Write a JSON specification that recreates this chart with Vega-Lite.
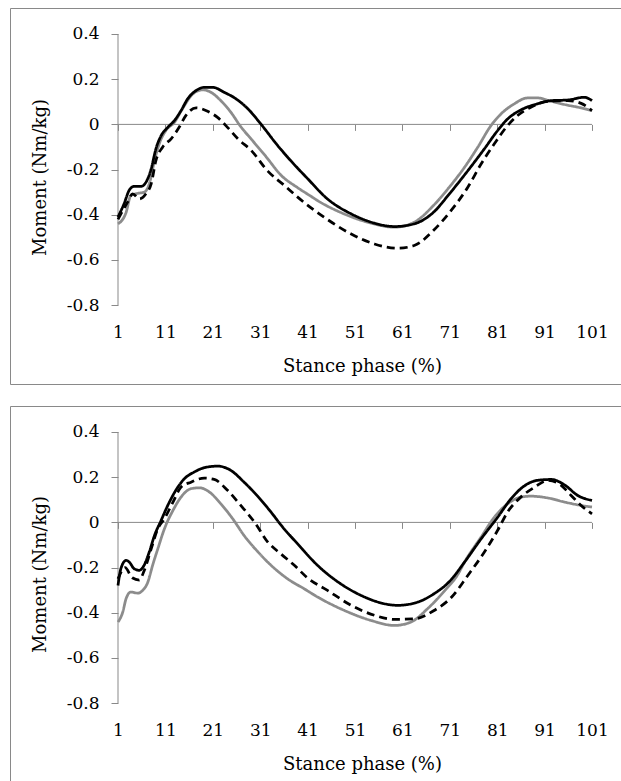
{
  "$schema": "https://vega.github.io/schema/vega-lite/v6.json",
  "padding": {"left": 9, "top": 7, "right": 0, "bottom": 0},
  "background": "white",
  "config": {
    "view": {"stroke": "#898989", "strokeWidth": 1},
    "font": "DejaVu Serif",
    "axis": {"grid": false, "labelColor": "#000000", "titleColor": "#000000", "labelFontSize": 17, "titleFontSize": 18, "titleFontWeight": "normal", "tickColor": "#898989", "domainColor": "#898989"}
  },
  "datasets": {
    "axes": [
      {"x": 1, "x2": 101, "y": 0, "y2": 0},
      {"x": 1, "x2": 1, "y": -0.8, "y2": 0.4}
    ],
    "lines": [
      {"panel": 1, "series": "gray", "x": 1, "y": -0.44},
      {"panel": 1, "series": "gray", "x": 2.7, "y": -0.39},
      {"panel": 1, "series": "gray", "x": 3.7, "y": -0.315},
      {"panel": 1, "series": "gray", "x": 5.2, "y": -0.305},
      {"panel": 1, "series": "gray", "x": 6.5, "y": -0.3},
      {"panel": 1, "series": "gray", "x": 7.6, "y": -0.263},
      {"panel": 1, "series": "gray", "x": 8.7, "y": -0.16},
      {"panel": 1, "series": "gray", "x": 9.7, "y": -0.086},
      {"panel": 1, "series": "gray", "x": 11.1, "y": -0.027},
      {"panel": 1, "series": "gray", "x": 12.9, "y": 0.009},
      {"panel": 1, "series": "gray", "x": 14.6, "y": 0.069},
      {"panel": 1, "series": "gray", "x": 16.8, "y": 0.135},
      {"panel": 1, "series": "gray", "x": 18.9, "y": 0.153},
      {"panel": 1, "series": "gray", "x": 20.6, "y": 0.142},
      {"panel": 1, "series": "gray", "x": 22.7, "y": 0.105},
      {"panel": 1, "series": "gray", "x": 24.8, "y": 0.054},
      {"panel": 1, "series": "gray", "x": 26.9, "y": -0.01},
      {"panel": 1, "series": "gray", "x": 29.1, "y": -0.065},
      {"panel": 1, "series": "gray", "x": 32.2, "y": -0.142},
      {"panel": 1, "series": "gray", "x": 35.4, "y": -0.225},
      {"panel": 1, "series": "gray", "x": 38.9, "y": -0.28},
      {"panel": 1, "series": "gray", "x": 41.7, "y": -0.318},
      {"panel": 1, "series": "gray", "x": 43.1, "y": -0.337},
      {"panel": 1, "series": "gray", "x": 48.7, "y": -0.396},
      {"panel": 1, "series": "gray", "x": 54.4, "y": -0.437},
      {"panel": 1, "series": "gray", "x": 59.3, "y": -0.455},
      {"panel": 1, "series": "gray", "x": 63.5, "y": -0.433},
      {"panel": 1, "series": "gray", "x": 67.5, "y": -0.36},
      {"panel": 1, "series": "gray", "x": 71, "y": -0.275},
      {"panel": 1, "series": "gray", "x": 74.1, "y": -0.19},
      {"panel": 1, "series": "gray", "x": 76.9, "y": -0.101},
      {"panel": 1, "series": "gray", "x": 79.7, "y": -0.005},
      {"panel": 1, "series": "gray", "x": 81.8, "y": 0.046},
      {"panel": 1, "series": "gray", "x": 84.6, "y": 0.091},
      {"panel": 1, "series": "gray", "x": 87.4, "y": 0.117},
      {"panel": 1, "series": "gray", "x": 89.5, "y": 0.117},
      {"panel": 1, "series": "gray", "x": 92.4, "y": 0.102},
      {"panel": 1, "series": "gray", "x": 95.2, "y": 0.088},
      {"panel": 1, "series": "gray", "x": 98.7, "y": 0.073},
      {"panel": 1, "series": "gray", "x": 101, "y": 0.061},

      {"panel": 1, "series": "dashed", "x": 1, "y": -0.42},
      {"panel": 1, "series": "dashed", "x": 3, "y": -0.345},
      {"panel": 1, "series": "dashed", "x": 4.1, "y": -0.307},
      {"panel": 1, "series": "dashed", "x": 5.5, "y": -0.33},
      {"panel": 1, "series": "dashed", "x": 6.9, "y": -0.307},
      {"panel": 1, "series": "dashed", "x": 8, "y": -0.263},
      {"panel": 1, "series": "dashed", "x": 9, "y": -0.16},
      {"panel": 1, "series": "dashed", "x": 10.4, "y": -0.101},
      {"panel": 1, "series": "dashed", "x": 12.2, "y": -0.064},
      {"panel": 1, "series": "dashed", "x": 13.9, "y": -0.013},
      {"panel": 1, "series": "dashed", "x": 15.3, "y": 0.039},
      {"panel": 1, "series": "dashed", "x": 17.5, "y": 0.073},
      {"panel": 1, "series": "dashed", "x": 19.9, "y": 0.058},
      {"panel": 1, "series": "dashed", "x": 22, "y": 0.031},
      {"panel": 1, "series": "dashed", "x": 24.1, "y": -0.013},
      {"panel": 1, "series": "dashed", "x": 26.3, "y": -0.064},
      {"panel": 1, "series": "dashed", "x": 29.1, "y": -0.115},
      {"panel": 1, "series": "dashed", "x": 32.6, "y": -0.207},
      {"panel": 1, "series": "dashed", "x": 36.1, "y": -0.27},
      {"panel": 1, "series": "dashed", "x": 38.9, "y": -0.322},
      {"panel": 1, "series": "dashed", "x": 44.5, "y": -0.411},
      {"panel": 1, "series": "dashed", "x": 50.2, "y": -0.485},
      {"panel": 1, "series": "dashed", "x": 55.1, "y": -0.529},
      {"panel": 1, "series": "dashed", "x": 60, "y": -0.548},
      {"panel": 1, "series": "dashed", "x": 63.5, "y": -0.536},
      {"panel": 1, "series": "dashed", "x": 67.7, "y": -0.466},
      {"panel": 1, "series": "dashed", "x": 71.5, "y": -0.375},
      {"panel": 1, "series": "dashed", "x": 74.8, "y": -0.278},
      {"panel": 1, "series": "dashed", "x": 77.6, "y": -0.175},
      {"panel": 1, "series": "dashed", "x": 80.4, "y": -0.086},
      {"panel": 1, "series": "dashed", "x": 82.9, "y": -0.013},
      {"panel": 1, "series": "dashed", "x": 85.3, "y": 0.039},
      {"panel": 1, "series": "dashed", "x": 88.1, "y": 0.076},
      {"panel": 1, "series": "dashed", "x": 91.7, "y": 0.102},
      {"panel": 1, "series": "dashed", "x": 95.9, "y": 0.105},
      {"panel": 1, "series": "dashed", "x": 98.7, "y": 0.093},
      {"panel": 1, "series": "dashed", "x": 101, "y": 0.061},

      {"panel": 1, "series": "black", "x": 1, "y": -0.41},
      {"panel": 1, "series": "black", "x": 2.3, "y": -0.35},
      {"panel": 1, "series": "black", "x": 3.4, "y": -0.29},
      {"panel": 1, "series": "black", "x": 4.4, "y": -0.274},
      {"panel": 1, "series": "black", "x": 5.9, "y": -0.274},
      {"panel": 1, "series": "black", "x": 6.9, "y": -0.256},
      {"panel": 1, "series": "black", "x": 8, "y": -0.197},
      {"panel": 1, "series": "black", "x": 9, "y": -0.108},
      {"panel": 1, "series": "black", "x": 10.1, "y": -0.05},
      {"panel": 1, "series": "black", "x": 11.5, "y": -0.013},
      {"panel": 1, "series": "black", "x": 12.9, "y": 0.017},
      {"panel": 1, "series": "black", "x": 14.3, "y": 0.061},
      {"panel": 1, "series": "black", "x": 15.7, "y": 0.113},
      {"panel": 1, "series": "black", "x": 17.5, "y": 0.15},
      {"panel": 1, "series": "black", "x": 19.2, "y": 0.164},
      {"panel": 1, "series": "black", "x": 21, "y": 0.164},
      {"panel": 1, "series": "black", "x": 23.4, "y": 0.142},
      {"panel": 1, "series": "black", "x": 25.9, "y": 0.113},
      {"panel": 1, "series": "black", "x": 28.4, "y": 0.069},
      {"panel": 1, "series": "black", "x": 31.2, "y": 0},
      {"panel": 1, "series": "black", "x": 34.7, "y": -0.094},
      {"panel": 1, "series": "black", "x": 38.2, "y": -0.178},
      {"panel": 1, "series": "black", "x": 41, "y": -0.24},
      {"panel": 1, "series": "black", "x": 45.2, "y": -0.33},
      {"panel": 1, "series": "black", "x": 50.2, "y": -0.396},
      {"panel": 1, "series": "black", "x": 55.1, "y": -0.437},
      {"panel": 1, "series": "black", "x": 59.3, "y": -0.452},
      {"panel": 1, "series": "black", "x": 63.5, "y": -0.44},
      {"panel": 1, "series": "black", "x": 67.5, "y": -0.39},
      {"panel": 1, "series": "black", "x": 71, "y": -0.305},
      {"panel": 1, "series": "black", "x": 75.5, "y": -0.186},
      {"panel": 1, "series": "black", "x": 78.3, "y": -0.108},
      {"panel": 1, "series": "black", "x": 81.1, "y": -0.027},
      {"panel": 1, "series": "black", "x": 83.2, "y": 0.024},
      {"panel": 1, "series": "black", "x": 86, "y": 0.064},
      {"panel": 1, "series": "black", "x": 89.5, "y": 0.091},
      {"panel": 1, "series": "black", "x": 92.4, "y": 0.105},
      {"panel": 1, "series": "black", "x": 95.9, "y": 0.108},
      {"panel": 1, "series": "black", "x": 99.4, "y": 0.12},
      {"panel": 1, "series": "black", "x": 101, "y": 0.105},

      {"panel": 2, "series": "gray", "x": 1, "y": -0.441},
      {"panel": 2, "series": "gray", "x": 2, "y": -0.397},
      {"panel": 2, "series": "gray", "x": 2.7, "y": -0.338},
      {"panel": 2, "series": "gray", "x": 3.7, "y": -0.308},
      {"panel": 2, "series": "gray", "x": 5.2, "y": -0.313},
      {"panel": 2, "series": "gray", "x": 6.2, "y": -0.301},
      {"panel": 2, "series": "gray", "x": 7.3, "y": -0.264},
      {"panel": 2, "series": "gray", "x": 8.3, "y": -0.19},
      {"panel": 2, "series": "gray", "x": 9.4, "y": -0.117},
      {"panel": 2, "series": "gray", "x": 10.8, "y": -0.028},
      {"panel": 2, "series": "gray", "x": 12.6, "y": 0.053},
      {"panel": 2, "series": "gray", "x": 14.3, "y": 0.112},
      {"panel": 2, "series": "gray", "x": 16.4, "y": 0.149},
      {"panel": 2, "series": "gray", "x": 18.2, "y": 0.153},
      {"panel": 2, "series": "gray", "x": 20.3, "y": 0.134},
      {"panel": 2, "series": "gray", "x": 22.7, "y": 0.082},
      {"panel": 2, "series": "gray", "x": 25.2, "y": 0.016},
      {"panel": 2, "series": "gray", "x": 27.6, "y": -0.058},
      {"panel": 2, "series": "gray", "x": 30.5, "y": -0.13},
      {"panel": 2, "series": "gray", "x": 33.3, "y": -0.19},
      {"panel": 2, "series": "gray", "x": 36.8, "y": -0.25},
      {"panel": 2, "series": "gray", "x": 40.3, "y": -0.294},
      {"panel": 2, "series": "gray", "x": 43.1, "y": -0.33},
      {"panel": 2, "series": "gray", "x": 48.7, "y": -0.389},
      {"panel": 2, "series": "gray", "x": 54.4, "y": -0.434},
      {"panel": 2, "series": "gray", "x": 59.3, "y": -0.456},
      {"panel": 2, "series": "gray", "x": 62.8, "y": -0.441},
      {"panel": 2, "series": "gray", "x": 66.3, "y": -0.382},
      {"panel": 2, "series": "gray", "x": 69.8, "y": -0.305},
      {"panel": 2, "series": "gray", "x": 72.7, "y": -0.23},
      {"panel": 2, "series": "gray", "x": 74.1, "y": -0.176},
      {"panel": 2, "series": "gray", "x": 77.6, "y": -0.065},
      {"panel": 2, "series": "gray", "x": 80.4, "y": 0.023},
      {"panel": 2, "series": "gray", "x": 83.2, "y": 0.082},
      {"panel": 2, "series": "gray", "x": 86, "y": 0.112},
      {"panel": 2, "series": "gray", "x": 88.1, "y": 0.116},
      {"panel": 2, "series": "gray", "x": 91.7, "y": 0.108},
      {"panel": 2, "series": "gray", "x": 95.2, "y": 0.09},
      {"panel": 2, "series": "gray", "x": 98.7, "y": 0.075},
      {"panel": 2, "series": "gray", "x": 101, "y": 0.068},

      {"panel": 2, "series": "dashed", "x": 1, "y": -0.25},
      {"panel": 2, "series": "dashed", "x": 2.5, "y": -0.2},
      {"panel": 2, "series": "dashed", "x": 4, "y": -0.245},
      {"panel": 2, "series": "dashed", "x": 5.5, "y": -0.255},
      {"panel": 2, "series": "dashed", "x": 6.5, "y": -0.215},
      {"panel": 2, "series": "dashed", "x": 8, "y": -0.117},
      {"panel": 2, "series": "dashed", "x": 9.4, "y": -0.028},
      {"panel": 2, "series": "dashed", "x": 10.8, "y": 0.016},
      {"panel": 2, "series": "dashed", "x": 12.6, "y": 0.09},
      {"panel": 2, "series": "dashed", "x": 14.3, "y": 0.156},
      {"panel": 2, "series": "dashed", "x": 16.4, "y": 0.178},
      {"panel": 2, "series": "dashed", "x": 19.2, "y": 0.196},
      {"panel": 2, "series": "dashed", "x": 21.3, "y": 0.19},
      {"panel": 2, "series": "dashed", "x": 24.1, "y": 0.142},
      {"panel": 2, "series": "dashed", "x": 26.9, "y": 0.075},
      {"panel": 2, "series": "dashed", "x": 29.8, "y": 0.001},
      {"panel": 2, "series": "dashed", "x": 32.6, "y": -0.087},
      {"panel": 2, "series": "dashed", "x": 35.4, "y": -0.14},
      {"panel": 2, "series": "dashed", "x": 38.2, "y": -0.19},
      {"panel": 2, "series": "dashed", "x": 41, "y": -0.246},
      {"panel": 2, "series": "dashed", "x": 45.2, "y": -0.301},
      {"panel": 2, "series": "dashed", "x": 50.2, "y": -0.367},
      {"panel": 2, "series": "dashed", "x": 55.1, "y": -0.411},
      {"panel": 2, "series": "dashed", "x": 59.3, "y": -0.429},
      {"panel": 2, "series": "dashed", "x": 63.5, "y": -0.427},
      {"panel": 2, "series": "dashed", "x": 67.5, "y": -0.392},
      {"panel": 2, "series": "dashed", "x": 71.5, "y": -0.328},
      {"panel": 2, "series": "dashed", "x": 74.8, "y": -0.235},
      {"panel": 2, "series": "dashed", "x": 78.3, "y": -0.131},
      {"panel": 2, "series": "dashed", "x": 81.1, "y": -0.035},
      {"panel": 2, "series": "dashed", "x": 83.2, "y": 0.046},
      {"panel": 2, "series": "dashed", "x": 86, "y": 0.112},
      {"panel": 2, "series": "dashed", "x": 88.9, "y": 0.156},
      {"panel": 2, "series": "dashed", "x": 91.7, "y": 0.186},
      {"panel": 2, "series": "dashed", "x": 94.5, "y": 0.164},
      {"panel": 2, "series": "dashed", "x": 96.6, "y": 0.119},
      {"panel": 2, "series": "dashed", "x": 98.7, "y": 0.075},
      {"panel": 2, "series": "dashed", "x": 101, "y": 0.038},

      {"panel": 2, "series": "black", "x": 1, "y": -0.279},
      {"panel": 2, "series": "black", "x": 1.6, "y": -0.205},
      {"panel": 2, "series": "black", "x": 2.7, "y": -0.168},
      {"panel": 2, "series": "black", "x": 3.4, "y": -0.176},
      {"panel": 2, "series": "black", "x": 4.4, "y": -0.205},
      {"panel": 2, "series": "black", "x": 5.5, "y": -0.212},
      {"panel": 2, "series": "black", "x": 6.5, "y": -0.19},
      {"panel": 2, "series": "black", "x": 7.6, "y": -0.131},
      {"panel": 2, "series": "black", "x": 8.7, "y": -0.058},
      {"panel": 2, "series": "black", "x": 10.1, "y": 0.009},
      {"panel": 2, "series": "black", "x": 11.5, "y": 0.075},
      {"panel": 2, "series": "black", "x": 13.2, "y": 0.142},
      {"panel": 2, "series": "black", "x": 15, "y": 0.193},
      {"panel": 2, "series": "black", "x": 17.1, "y": 0.223},
      {"panel": 2, "series": "black", "x": 19.2, "y": 0.242},
      {"panel": 2, "series": "black", "x": 22, "y": 0.249},
      {"panel": 2, "series": "black", "x": 24.8, "y": 0.23},
      {"panel": 2, "series": "black", "x": 27.6, "y": 0.178},
      {"panel": 2, "series": "black", "x": 30.5, "y": 0.115},
      {"panel": 2, "series": "black", "x": 33.3, "y": 0.045},
      {"panel": 2, "series": "black", "x": 35.7, "y": -0.02},
      {"panel": 2, "series": "black", "x": 38.9, "y": -0.095},
      {"panel": 2, "series": "black", "x": 43.1, "y": -0.19},
      {"panel": 2, "series": "black", "x": 48, "y": -0.272},
      {"panel": 2, "series": "black", "x": 53, "y": -0.33},
      {"panel": 2, "series": "black", "x": 57.2, "y": -0.36},
      {"panel": 2, "series": "black", "x": 60, "y": -0.367},
      {"panel": 2, "series": "black", "x": 64.2, "y": -0.353},
      {"panel": 2, "series": "black", "x": 67.5, "y": -0.318},
      {"panel": 2, "series": "black", "x": 71, "y": -0.26},
      {"panel": 2, "series": "black", "x": 74.1, "y": -0.176},
      {"panel": 2, "series": "black", "x": 77.6, "y": -0.073},
      {"panel": 2, "series": "black", "x": 81.1, "y": 0.023},
      {"panel": 2, "series": "black", "x": 83.9, "y": 0.104},
      {"panel": 2, "series": "black", "x": 86.7, "y": 0.161},
      {"panel": 2, "series": "black", "x": 89.5, "y": 0.186},
      {"panel": 2, "series": "black", "x": 92.4, "y": 0.19},
      {"panel": 2, "series": "black", "x": 95.2, "y": 0.166},
      {"panel": 2, "series": "black", "x": 98, "y": 0.119},
      {"panel": 2, "series": "black", "x": 101, "y": 0.097}
    ]
  },
  "spacing": 22,
  "bounds": "flush",
  "vconcat": [
    {
      "width": 612,
      "height": 376,
      "resolve": {"axis": {"x": "independent", "y": "independent"}},
      "layer": [
        {
          "data": {"name": "axes"},
          "mark": {"type": "rule", "color": "#898989", "strokeWidth": 1},
          "encoding": {
            "x": {"field": "x", "type": "quantitative", "scale": {"domain": [-21.785, 107.33], "nice": false, "zero": false},
                  "axis": {"orient": "bottom", "offset": -259.6, "values": [1, 11, 21, 31, 41, 51, 61, 71, 81, 91, 101], "domain": false, "labels": false, "ticks": true, "tickSize": 6, "title": null}},
            "x2": {"field": "x2"},
            "y": {"field": "y", "type": "quantitative", "scale": {"domain": [-1.1487, 0.515], "nice": false, "zero": false}, "axis": null},
            "y2": {"field": "y2"}
          }
        },
        {
          "data": {"name": "lines"},
          "transform": [{"filter": "datum.panel == 1"}],
          "mark": {"type": "line", "interpolate": "monotone", "strokeWidth": 2.75},
          "encoding": {
            "x": {"field": "x", "type": "quantitative", "scale": {"domain": [-21.785, 107.33], "nice": false, "zero": false},
                  "axis": {"orient": "bottom", "offset": -59.5, "values": [1, 11, 21, 31, 41, 51, 61, 71, 81, 91, 101], "domain": false, "ticks": false, "tickSize": 0, "labelPadding": 0, "labelDx": 3, "labelBaseline": "top", "title": "Stance phase (%)", "titleX": 352, "titleY": 41.5, "titleBaseline": "middle", "titleAnchor": "middle"}},
            "y": {"field": "y", "type": "quantitative", "scale": {"domain": [-1.1487, 0.515], "nice": false, "zero": false},
                  "axis": {"orient": "left", "offset": -108, "values": [-0.8, -0.6, -0.4, -0.2, 0, 0.2, 0.4], "domain": false, "ticks": true, "tickSize": 7, "labelPadding": 12, "labelExpr": "datum.value == 0 ? '0' : replace(format(datum.value, '.1f'), '\u2212', '-')", "title": "Moment (Nm/kg)", "titleX": -78, "titleY": 169, "titleBaseline": "middle", "titleAngle": -90, "titleAnchor": "middle"}},
            "color": {"field": "series", "type": "nominal", "scale": {"domain": ["gray", "dashed", "black"], "range": ["#8c8c8c", "#000000", "#000000"]}, "legend": null},
            "strokeDash": {"field": "series", "type": "nominal", "scale": {"domain": ["gray", "dashed", "black"], "range": [[1, 0], [8, 5], [1, 0]]}, "legend": null}
          }
        }
      ]
    },
    {
      "width": 612,
      "height": 376,
      "resolve": {"axis": {"x": "independent", "y": "independent"}},
      "layer": [
        {
          "data": {"name": "axes"},
          "mark": {"type": "rule", "color": "#898989", "strokeWidth": 1},
          "encoding": {
            "x": {"field": "x", "type": "quantitative", "scale": {"domain": [-21.785, 107.33], "nice": false, "zero": false},
                  "axis": {"orient": "bottom", "offset": -259.6, "values": [1, 11, 21, 31, 41, 51, 61, 71, 81, 91, 101], "domain": false, "labels": false, "ticks": true, "tickSize": 6, "title": null}},
            "x2": {"field": "x2"},
            "y": {"field": "y", "type": "quantitative", "scale": {"domain": [-1.1487, 0.515], "nice": false, "zero": false}, "axis": null},
            "y2": {"field": "y2"}
          }
        },
        {
          "data": {"name": "lines"},
          "transform": [{"filter": "datum.panel == 2"}],
          "mark": {"type": "line", "interpolate": "monotone", "strokeWidth": 2.75},
          "encoding": {
            "x": {"field": "x", "type": "quantitative", "scale": {"domain": [-21.785, 107.33], "nice": false, "zero": false},
                  "axis": {"orient": "bottom", "offset": -59.5, "values": [1, 11, 21, 31, 41, 51, 61, 71, 81, 91, 101], "domain": false, "ticks": false, "tickSize": 0, "labelPadding": 0, "labelDx": 3, "labelBaseline": "top", "title": "Stance phase (%)", "titleX": 352, "titleY": 41.5, "titleBaseline": "middle", "titleAnchor": "middle"}},
            "y": {"field": "y", "type": "quantitative", "scale": {"domain": [-1.1487, 0.515], "nice": false, "zero": false},
                  "axis": {"orient": "left", "offset": -108, "values": [-0.8, -0.6, -0.4, -0.2, 0, 0.2, 0.4], "domain": false, "ticks": true, "tickSize": 7, "labelPadding": 12, "labelExpr": "datum.value == 0 ? '0' : replace(format(datum.value, '.1f'), '\u2212', '-')", "title": "Moment (Nm/kg)", "titleX": -78, "titleY": 168, "titleBaseline": "middle", "titleAngle": -90, "titleAnchor": "middle"}},
            "color": {"field": "series", "type": "nominal", "scale": {"domain": ["gray", "dashed", "black"], "range": ["#8c8c8c", "#000000", "#000000"]}, "legend": null},
            "strokeDash": {"field": "series", "type": "nominal", "scale": {"domain": ["gray", "dashed", "black"], "range": [[1, 0], [8, 5], [1, 0]]}, "legend": null}
          }
        }
      ]
    }
  ]
}
